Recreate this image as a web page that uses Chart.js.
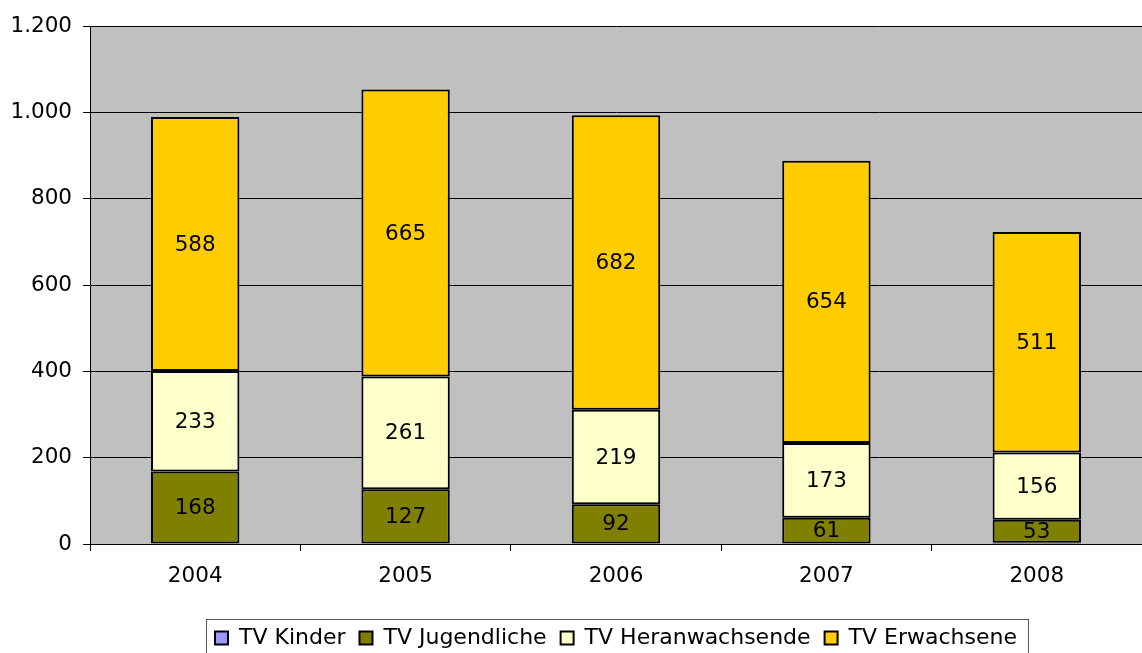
<!DOCTYPE html>
<html>
<head>
<meta charset="utf-8">
<script src="https://cdn.jsdelivr.net/npm/chart.js@4/dist/chart.umd.min.js"></script>
<style>
  html, body { margin: 0; padding: 0; background: #fff; }
  #wrap { width: 1142px; height: 653px; }
</style>
</head>
<body>
<div id="wrap"><canvas id="chart"></canvas></div>
<script>
// ── data ───────────────────────────────────────────────────────────
const years = ["2004", "2005", "2006", "2007", "2008"];
const kinder = [0, 0, 0, 0, 3];
const jugendliche = [168, 127, 92, 61, 53];
const heranwachsende = [233, 261, 219, 173, 156];
const erwachsene = [588, 665, 682, 654, 511];
const yTicks = [0, 200, 400, 600, 800, 1000, 1200];

const FONT = "'DejaVu Sans', Verdana, sans-serif";
const fmt = (v) => v.toLocaleString("de-DE");

// grauer Plot-Hintergrund
const plotBg = {
  id: "plotBg",
  beforeDraw(c) {
    const a = c.chartArea, ctx = c.ctx;
    ctx.save();
    ctx.fillStyle = "#c0c0c0";
    ctx.fillRect(a.left, a.top, c.width - a.left, a.bottom - a.top);
    ctx.restore();
  },
};

// Werte mittig in den Segmenten
const segLabels = {
  id: "segLabels",
  afterDatasetsDraw(c) {
    const ctx = c.ctx;
    ctx.save();
    ctx.font = "21.5px " + FONT;
    ctx.fillStyle = "#000";
    ctx.textAlign = "center";
    ctx.textBaseline = "middle";
    c.data.datasets.forEach((ds, i) => {
      if (i === 0) return;
      c.getDatasetMeta(i).data.forEach((bar, j) => {
        const v = ds.data[j];
        if (!v) return;
        ctx.fillText(fmt(v), bar.x, (bar.y + bar.base) / 2 + 1);
      });
    });
    ctx.restore();
  },
};

// Rahmen um die Legende
const legendBox = {
  id: "legendBox",
  afterDraw(c) {
    const hb = c.legend.legendHitBoxes;
    if (!hb || !hb.length) return;
    const l = Math.min(...hb.map((h) => h.left)) - 9;
    const r = Math.max(...hb.map((h) => h.left + h.width)) + 11;
    const t = Math.min(...hb.map((h) => h.top)) - 8;
    const b = Math.max(...hb.map((h) => h.top + h.height)) + 8;
    const ctx = c.ctx;
    ctx.save();
    ctx.strokeStyle = "#555";
    ctx.lineWidth = 1;
    ctx.strokeRect(Math.round(l) + 0.5, Math.round(t) + 0.5, Math.round(r - l), Math.round(b - t));
    ctx.restore();
  },
};

const ds = (label, data, color) => ({
  label, data, backgroundColor: color, borderColor: "#000", borderWidth: 2,
  borderSkipped: false, barPercentage: 0.42, categoryPercentage: 1,
});

new Chart(document.getElementById("chart"), {
  type: "bar",
  data: {
    labels: years,
    datasets: [
      ds("TV Kinder", kinder, "#9999ff"),
      ds("TV Jugendliche", jugendliche, "#808000"),
      ds("TV Heranwachsende", heranwachsende, "#ffffcc"),
      ds("TV Erwachsene", erwachsene, "#ffcc00"),
    ],
  },
  options: {
    responsive: true, maintainAspectRatio: false, animation: false,
    layout: { padding: { top: 26, right: 0, left: 0, bottom: -6 } },
    plugins: {
      tooltip: { enabled: false },
      legend: {
        position: "bottom", fullSize: false,
        labels: {
          font: { family: FONT, size: 22 }, color: "#000",
          boxWidth: 13, boxHeight: 13, padding: 14,
        },
      },
    },
    scales: {
      x: {
        stacked: true,
        grid: { display: true, drawOnChartArea: false, color: "#000", tickLength: 7, offset: true },
        border: { color: "#000", width: 1 },
        ticks: { font: { family: FONT, size: 21.5 }, color: "#000", padding: 13 },
        afterFit: (s) => { s.height = 69; },
      },
      y: {
        stacked: true, min: 0, max: 1200,
        afterBuildTicks: (s) => { s.ticks = yTicks.map((v) => ({ value: v })); },
        grid: { color: "#000", lineWidth: 1, tickLength: 7 },
        border: { color: "#000", width: 1 },
        ticks: { font: { family: FONT, size: 21.5 }, color: "#000", padding: 11, callback: (v) => fmt(v) },
        afterFit: (s) => { s.width = 90; },
      },
    },
  },
  plugins: [plotBg, segLabels, legendBox],
});
</script>
</body>
</html>
